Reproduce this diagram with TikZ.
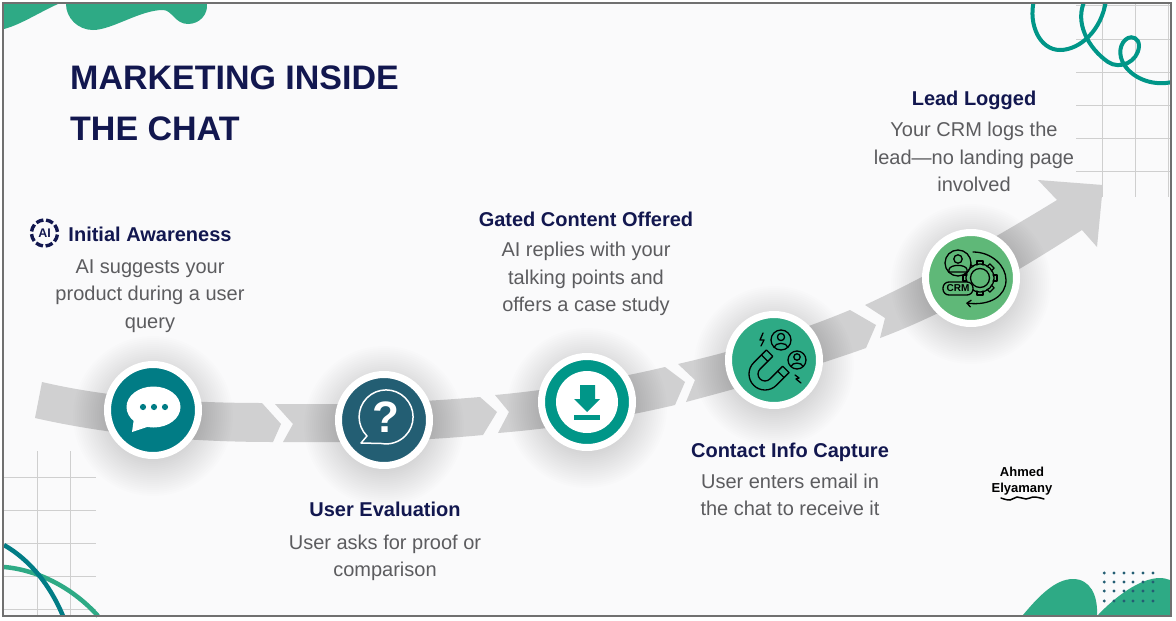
\documentclass[tikz,border=0pt]{standalone}
\usepackage{fontspec}
\setmainfont{Liberation Sans}
\usetikzlibrary{arrows.meta}
\definecolor{PaperGray}{HTML}{FAFAFB}
\definecolor{FrameGray}{HTML}{707070}
\definecolor{GridGray}{HTML}{CFCFCF}
\definecolor{BandGray}{HTML}{D0D0D1}
\definecolor{InkNavy}{HTML}{12174F}
\definecolor{BodyGray}{HTML}{5C5C5F}
\definecolor{ChatTeal}{HTML}{017C85}
\definecolor{AskBlue}{HTML}{235E73}
\definecolor{OfferTeal}{HTML}{009688}
\definecolor{LeafGreen}{HTML}{2EAA85}
\definecolor{LogGreen}{HTML}{5FB878}
\begin{document}
\begin{tikzpicture}[x=1pt,y=-1pt,
    band/.style={fill=BandGray},
    gridline/.style={draw=GridGray,line width=0.9pt},
    stepdot/.style={circle,draw=white,line width=7pt,minimum size=91pt,inner sep=0pt},
    heading/.style={font=\fontsize{20}{24}\selectfont\bfseries,text=InkNavy,inner sep=0pt},
    blurb/.style={font=\fontsize{20}{27.5}\selectfont,text=BodyGray,align=center,inner sep=0pt},
    thinink/.style={draw=black,line width=1.3pt,line join=round,line cap=round},
    curl/.style={draw=OfferTeal,line width=4pt,line cap=round}
  ]
  \useasboundingbox (0,0) rectangle (1176,621);
  \fill[white] (0,0) rectangle (1176,621);
  \fill[PaperGray] (3,3) rectangle (1171,616);

  % corner decoration
  \foreach \y in {477,510,543,576,609} \draw[gridline] (4,\y) -- (96,\y);
  \foreach \x in {37.5,70.5} \draw[gridline] (\x,451) -- (\x,615);
  \foreach \y in {5,39,72,105,138,171} \draw[gridline] (1076,\y) -- (1170,\y);
  \foreach \x in {1102,1135,1168} \draw[gridline] (\x,4) -- (\x,197);

  \draw[draw=LeafGreen,line width=4.5pt] (4,567) .. controls (40,570) and (75,590) .. (98,616);
  \draw[draw=ChatTeal,line width=4.5pt] (4,545) .. controls (30,560) and (50,585) .. (63,616);

  \fill[LeafGreen] (4,4) -- (58,4) .. controls (40,12) and (20,25) .. (4,29) -- cycle;
  \fill[LeafGreen] (66,4) .. controls (66,18) and (78,30) .. (93,30)
    .. controls (112,30) and (140,10) .. (163,10)
    .. controls (172,10) and (175,24) .. (188,24)
    .. controls (200,24) and (208,14) .. (207,4) -- cycle;
  \fill[LeafGreen] (1023,615) .. controls (1038,597) and (1055,579) .. (1073,579)
    .. controls (1090,579) and (1098,595) .. (1097,615) -- cycle;
  \fill[LeafGreen] (1098,615) .. controls (1115,597) and (1140,578) .. (1160,578)
    .. controls (1164,578) and (1167,579) .. (1170,580) -- (1170,615) -- cycle;
  \foreach \x in {1104.3,1114,1124,1133,1143,1153}
    \foreach \y in {573,582,591,601}
      \fill[AskBlue] (\x,\y) circle (1.6pt);

  \begin{scope}
    \clip (3,3) rectangle (1171,616);
    \draw[curl] (1034,0) .. controls (1028,25) and (1040,50) .. (1060,50)
      .. controls (1080,50) and (1102,30) .. (1106,0);
    \draw[curl] (1085,0) .. controls (1074,22) and (1088,48) .. (1108,62)
      .. controls (1120,70) and (1138,62) .. (1139,46)
      .. controls (1139,38) and (1132,36) .. (1128,38)
      .. controls (1120,42) and (1117,55) .. (1125,66)
      .. controls (1135,80) and (1155,86) .. (1172,82);
  \end{scope}

  % the road
  \fill[band] (42,382) .. controls (110,398) and (190,403) .. (262,403) -- (281,424) -- (273,442)
    .. controls (190,442) and (110,435) .. (35,418) -- cycle;
  \fill[band] (275,404) -- (293,424) -- (283,442) .. controls (350,443) and (420,441) .. (483,435)
    -- (497,412) -- (480,397) .. controls (410,403) and (340,405) .. (275,404) -- cycle;
  \fill[band] (495,395) -- (509,412) -- (498,433) .. controls (560,428) and (620,418) .. (675,405)
    -- (685,382) -- (665,367) .. controls (610,380) and (550,390) .. (495,395) -- cycle;
  \fill[band] (678,364) -- (695,380) -- (686,402) .. controls (750,385) and (810,368) .. (866,348)
    -- (876,325) -- (850,310) .. controls (790,335) and (730,352) .. (678,364) -- cycle;
  \fill[band] (865,305) -- (885,318) -- (880,338) .. controls (950,312) and (1020,270) .. (1082,230)
    -- (1097,247) -- (1103,185) -- (1038,180) -- (1057,200)
    .. controls (1000,235) and (930,275) .. (865,305) -- cycle;

  % soft shadows
  \foreach \cx/\cy in {153/410,384/420,587/402,774/360,971/278}
    \foreach \r in {44,46,...,80}
      \fill[black,opacity=0.0075] (\cx,\cy+6) circle (\r pt);

  \node[stepdot,fill=ChatTeal] (chatdot) at (153,410) {};
  \node[stepdot,fill=AskBlue] (askdot) at (384,420) {};
  \node[stepdot,fill=OfferTeal] (offerdot) at (587,402) {};
  \node[stepdot,fill=LeafGreen] (capturedot) at (774,360) {};
  \node[stepdot,fill=LogGreen] (logdot) at (971,278) {};

  % chat icon
  \fill[white] (153.5,407) ellipse (27pt and 20.5pt);
  \fill[white] (134,418) -- (132,432) -- (150,426) -- cycle;
  \foreach \x in {143,154,165} \fill[ChatTeal] (\x,407) circle (3.1pt);

  % question icon
  \draw[white,line width=1.5pt,line join=round] (367,436) arc (225:-100:27pt) -- (361,443) -- cycle;
  \node[text=white,font=\fontsize{44}{44}\selectfont\bfseries,inner sep=0pt] (askmark) at (385.5,417) {?};

  % download icon
  \fill[white] (587,402) circle (31pt);
  \fill[OfferTeal] (580,385) -- (595,385) -- (595,399) -- (600,399) -- (587,412) -- (574,399) -- (580,399) -- cycle;
  \fill[OfferTeal] (574,415) rectangle (600,419.5);

  % magnet icon
  \begin{scope}[shift={(765pt,-374pt)},rotate=-45]
    \draw[thinink] (-16,-18) -- (-16,0) arc (180:360:16pt) -- (16,-18) -- (7,-18) -- (7,0) arc (360:180:7pt) -- (-7,-18) -- cycle;
    \draw[thinink] (-16,-11) -- (-7,-11) (7,-11) -- (16,-11);
  \end{scope}
  \draw[thinink] (781,340) circle (10pt) (781,337) circle (3.6pt);
  \draw[thinink] (774,347.5) .. controls (775,342) and (787,342) .. (788,347.5);
  \draw[thinink,fill=LeafGreen] (797,360) circle (9pt);
  \draw[thinink] (797,357) circle (3.2pt);
  \draw[thinink] (791,366.5) .. controls (792,362) and (802,362) .. (803,366.5);
  \draw[thinink] (763,333) -- (760,340) -- (764,340) -- (761,346);
  \draw[thinink] (795,375) -- (799,378) -- (796,379) -- (801,383);

  % crm icon
  \foreach \a in {0,45,...,315}
    \draw[thinink,rotate around={\a:(980pt,-278pt)}] (977,265) -- (977,261) -- (983,261) -- (983,265);
  \draw[thinink] (980,278) circle (14pt);
  \draw[thinink] (980,278) circle (9.5pt);
  \draw[thinink,fill=LogGreen] (958,263) circle (13pt);
  \draw[thinink] (958,259) circle (4.2pt);
  \draw[thinink] (949,272) -- (949,269.5) .. controls (950,264) and (966,264) .. (967,269.5) -- (967,272) -- cycle;
  \node[draw=black,line width=1.3pt,fill=LogGreen,rounded corners=6pt,minimum width=30pt,minimum height=13pt,inner sep=0pt,
    font=\fontsize{10}{10}\selectfont\bfseries] (crmpill) at (958,288.5) {CRM};
  \draw[thinink,-{Straight Barb[length=4pt,width=7pt]}] (973,252) .. controls (992,252) and (1006,266) .. (1006,280)
    .. controls (1006,296) and (990,306) .. (966,303);

  % ai badge
  \foreach \a in {5,50,...,320}
    \draw[draw=InkNavy,line width=3.4pt] ([shift={(\a:13pt)}]44.5pt,-233pt) arc (\a:\a+33:13pt);
  \node[text=InkNavy,font=\fontsize{12.5}{12.5}\selectfont\bfseries,inner sep=0pt] (aibadge) at (44.5,233) {AI};

  % texts
  \node[font=\fontsize{34}{51}\selectfont\bfseries,text=InkNavy,align=left,anchor=west,inner sep=0pt] (title) at (70,103)
    {MARKETING INSIDE\\THE CHAT};

  \node[heading] (awarehead) at (150,234.5) {Initial Awareness};
  \node[blurb] (awarebody) at (150,296) {AI suggests your\\product during a user\\query};
  \node[heading] (evalhead) at (385,509) {User Evaluation};
  \node[blurb] (evalbody) at (385,558) {User asks for proof or\\comparison};
  \node[heading] (gatedhead) at (586,219) {Gated Content Offered};
  \node[blurb] (gatedbody) at (586,279) {AI replies with your\\talking points and\\offers a case study};
  \node[heading] (contacthead) at (790,452) {Contact Info Capture};
  \node[blurb] (contactbody) at (790,495) {User enters email in\\the chat to receive it};
  \node[heading] (leadhead) at (974,100) {Lead Logged};
  \node[blurb] (leadbody) at (974,157) {Your CRM logs the\\lead—no landing page\\involved};

  % signature
  \node[font=\fontsize{13}{16.5}\selectfont\bfseries,align=center,inner sep=0pt] (signature) at (1022,481) {Ahmed\\Elyamany};
  \draw[line width=1.5pt,line cap=round] plot[smooth,tension=0.8] coordinates
    {(1001,498) (1010,500) (1017,497) (1026,499) (1034,497) (1044,499)};

  \draw[draw=FrameGray,line width=2.4pt] (3,3) rectangle (1171,616);
\end{tikzpicture}
\end{document}
